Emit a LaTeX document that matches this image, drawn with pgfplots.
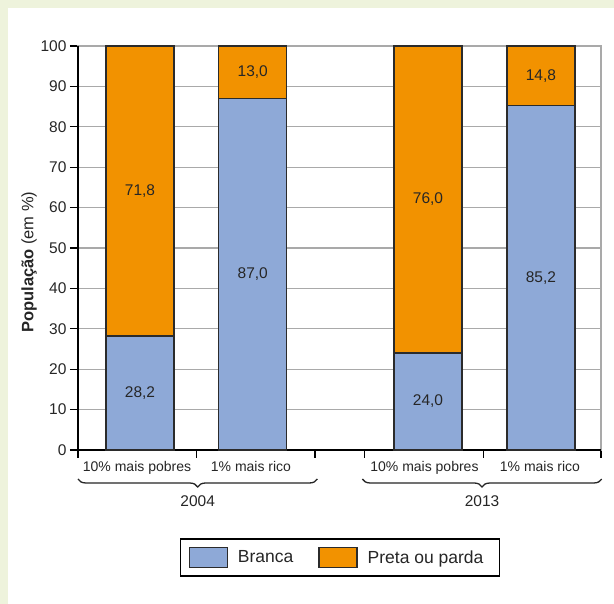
\documentclass[border=0pt]{standalone}
\usepackage{pgfplots}
\pgfplotsset{compat=1.18}
\usepackage{pgfplotstable}
\usepackage{fontspec}
\setmainfont{Liberation Sans}
\usetikzlibrary{decorations.pathreplacing}
\definecolor{bgGreen}{HTML}{EEF3DC}
\definecolor{barBlue}{HTML}{8EA9D7}
\definecolor{barOrange}{HTML}{F29200}
\definecolor{gridGray}{HTML}{A9A9A9}
\definecolor{edge}{HTML}{2B2B2B}

\pgfplotstableread{
x y lab
0.523 28.2 28,2
1.475 87.0 87,0
2.954 24.0 24,0
3.907 85.2 85,2
}\branca
\pgfplotstableread{
x y lab
0.523 71.8 71,8
1.475 13.0 13,0
2.954 76.0 76,0
3.907 14.8 14,8
}\preta

\pgfplotsset{
  midlabels/.style={
    point meta=explicit symbolic,
    visualization depends on=rawy \as \hh,
    nodes near coords,
    nodes near coords style={anchor=center, shift={(axis direction cs:0,0)}, font=\fontsize{15.5}{18}\selectfont, text=black!85},
  }
}

\begin{document}
\begin{tikzpicture}
\path[use as bounding box, fill=bgGreen] (-78pt,-154pt) rectangle (536pt,450pt);
\fill[white] (-70pt,-154pt) rectangle (536pt,442pt);
\begin{axis}[
  at={(0pt,0pt)}, anchor=south west,
  scale only axis, width=523pt, height=404pt,
  clip=false,
  xmin=0, xmax=4.414, ymin=0, ymax=100,
  ybar stacked, bar width=0.574,
  ytick={0,10,...,100},
  xtick={0,1,2.0,2.42,3.42,4.414},
  xticklabels={},
  tick pos=left, tick align=outside,
  major tick length=8pt,
  tick style={black, line width=1.2pt},
  ymajorgrids, grid style={gridGray, line width=1.2pt},
  axis line style={gridGray, line width=1.2pt},
  yticklabel style={font=\fontsize{15.5}{18}\selectfont, text=black!85},
  /pgf/number format/assume math mode=true,
  extra x ticks={0.498,1.46,2.924,3.899},
  extra x tick labels={10\% mais pobres,1\% mais rico,10\% mais pobres,1\% mais rico},
  extra x tick style={major tick length=0pt, grid=none,
     tick label style={font=\fontsize{14}{16}\selectfont, text=black!85, yshift=-8pt}},
  ylabel={\textbf{População} (em \%)},
  every axis y label/.style={at={(axis description cs:-0.0937,0.465)}, rotate=90, anchor=center, font=\fontsize{16.5}{19}\selectfont, text=black!85},
  legend columns=2,
  legend style={at={(0.501,-0.266)}, anchor=center, draw=black, line width=1.5pt,
     inner xsep=8pt, inner ysep=8pt, font=\fontsize{17.5}{20}\selectfont,
     nodes={inner sep=0pt, text=black!85},
     /tikz/every odd column/.append style={column sep=10pt},
     /tikz/every even column/.append style={column sep=25pt}},
  legend image code/.code={\draw[line width=1.3pt, draw=edge, #1] (0pt,-10pt) rectangle (38pt,10pt);},
]
\addplot[fill=barBlue, draw=edge, line width=1.3pt, midlabels] table[x=x,y=y,meta=lab]{\branca};
\addlegendentry{Branca}
\addplot[fill=barOrange, draw=edge, line width=1.3pt, midlabels] table[x=x,y=y,meta=lab]{\preta};
\addlegendentry{Preta ou parda\kern8pt}
\draw[black, line width=1.5pt] (rel axis cs:0,1) -- (rel axis cs:0,0) -- (rel axis cs:1,0);
\draw[decorate, decoration={brace, mirror, amplitude=8pt}, line width=1.3pt, black!85]
  ([yshift=-29pt]axis cs:0,0) -- ([yshift=-29pt]axis cs:2.02,0);
\draw[decorate, decoration={brace, mirror, amplitude=8pt}, line width=1.3pt, black!85]
  ([yshift=-29pt]axis cs:2.40,0) -- ([yshift=-29pt]axis cs:4.42,0);
\node[font=\fontsize{15.5}{18}\selectfont, text=black!85] at ([yshift=-51pt]axis cs:1.01,0) {2004};
\node[font=\fontsize{15.5}{18}\selectfont, text=black!85] at ([yshift=-51pt]axis cs:3.41,0) {2013};
\end{axis}
\end{tikzpicture}
\end{document}
